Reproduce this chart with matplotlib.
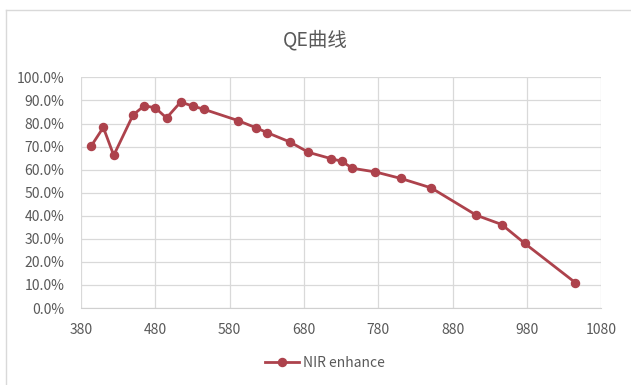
import matplotlib
matplotlib.use("Agg")
import matplotlib.pyplot as plt
from matplotlib.ticker import FuncFormatter
from matplotlib.lines import Line2D

plt.rcParams['font.family'] = ['Noto Sans CJK SC', 'DejaVu Sans']

title = "QE曲线"
series_name = "NIR enhance"
wavelength = [394, 410, 424, 450, 465, 480, 495, 514, 530, 545, 591, 615, 630, 661,
              686, 716, 731, 745, 776, 810, 851, 912, 946, 977, 1045]
qe = [70.4, 78.3, 66.2, 83.7, 87.7, 86.8, 82.4, 89.3, 87.6, 86.2, 81.3, 78.2, 76.1, 72.0,
      67.5, 64.8, 63.6, 60.6, 59.0, 56.2, 52.1, 40.2, 36.2, 28.0, 11.0]
x_ticks = [380, 480, 580, 680, 780, 880, 980, 1080]
y_ticks = [0, 10, 20, 30, 40, 50, 60, 70, 80, 90, 100]

fig = plt.figure(figsize=(6.31, 3.85), dpi=100)
ax = fig.add_axes([0.1284, 0.2, 0.8246, 0.599])

color = "#AD424C"
ax.plot(wavelength, qe, color=color, linewidth=2.0, marker='o', markersize=5.8,
        markerfacecolor=color, markeredgecolor=color, zorder=3)

ax.set_xlim(380, 1080)
ax.set_ylim(0, 100)
ax.set_xticks(x_ticks)
ax.set_yticks(y_ticks)
ax.yaxis.set_major_formatter(FuncFormatter(lambda v, p: f"{v:.1f}%"))
ax.grid(True, color="#D9D9D9", linewidth=0.9)
ax.set_axisbelow(True)
for s in ['top', 'right', 'left']:
    ax.spines[s].set_visible(False)
ax.spines['bottom'].set_color("#D0D0D0")
ax.tick_params(axis='both', length=0, labelsize=10, colors="#595959")
ax.tick_params(axis='y', pad=12)
ax.tick_params(axis='x', pad=11)

fig.text(0.5, 0.895, title, ha='center', va='center', fontsize=14, color="#595959")

handle = Line2D([], [], color=color, linewidth=2.0, marker='o', markersize=5.8,
                markerfacecolor=color, markeredgecolor=color)
fig.legend([handle], [series_name], loc='center', bbox_to_anchor=(0.515, 0.057),
           frameon=False, fontsize=10, labelcolor="#595959", handlelength=2.4,
           handletextpad=0.3)

# outer chart border (top and left visible)
fig.add_artist(Line2D([0.009, 1.0], [0.974, 0.974], transform=fig.transFigure,
                      color="#D9D9D9", linewidth=1.0))
fig.add_artist(Line2D([0.009, 0.009], [0.0, 0.974], transform=fig.transFigure,
                      color="#D9D9D9", linewidth=1.0))

fig.savefig("out.png", dpi=100)
